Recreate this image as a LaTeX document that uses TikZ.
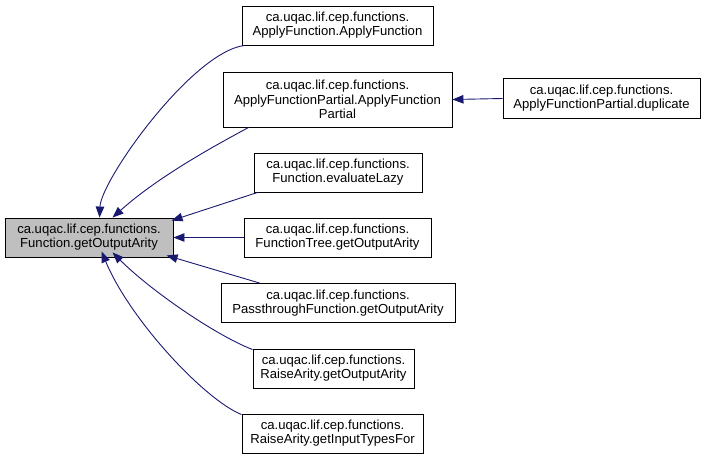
\documentclass[tikz,border=0pt]{standalone}
\usepackage{fontspec}
\setmainfont{Liberation Sans}
\usetikzlibrary{arrows.meta}
\definecolor{edgeblue}{HTML}{191970}
\definecolor{boxgray}{HTML}{BFBFBF}
\definecolor{boxline}{HTML}{000000}
\begin{document}
\begin{tikzpicture}[x=1pt,y=-1pt,
  fn/.style={draw=boxline,line width=0.9pt,fill=white,inner sep=0pt,align=center,
    font=\fontsize{13.1}{14.2}\selectfont},
  edge/.style={draw=edgeblue,line width=0.9pt,-{Triangle[length=11pt,width=8.5pt]},fill=none}]
\useasboundingbox (0,0) rectangle (707,460);
\node[fn,fill=boxgray,minimum width=168,minimum height=39] (main) at (89,237.5) {ca.uqac.lif.cep.functions.\\Function.getOutputArity};
\node[fn,minimum width=191,minimum height=39] (af) at (337.5,25.5) {ca.uqac.lif.cep.functions.\\ApplyFunction.ApplyFunction};
\node[fn,minimum width=229,minimum height=55] (afp) at (337.5,99.5) {ca.uqac.lif.cep.functions.\\ApplyFunctionPartial.ApplyFunction\\Partial};
\node[fn,minimum width=197,minimum height=40] (dup) at (601.5,98.5) {ca.uqac.lif.cep.functions.\\ApplyFunctionPartial.duplicate};
\node[fn,minimum width=168,minimum height=39] (el) at (338,172.5) {ca.uqac.lif.cep.functions.\\Function.evaluateLazy};
\node[fn,minimum width=187,minimum height=39] (ft) at (337.5,237.5) {ca.uqac.lif.cep.functions.\\FunctionTree.getOutputArity};
\node[fn,minimum width=234,minimum height=39] (pt) at (338,303) {ca.uqac.lif.cep.functions.\\PassthroughFunction.getOutputArity};
\node[fn,minimum width=161,minimum height=39] (ra) at (333.5,368.5) {ca.uqac.lif.cep.functions.\\RaiseArity.getOutputArity};
\node[fn,minimum width=181,minimum height=39] (rit) at (332.5,433.5) {ca.uqac.lif.cep.functions.\\RaiseArity.getInputTypesFor};

\draw[edge] ([xshift=3]af.south west) .. controls (192,52) and (101,180) .. ([xshift=95]main.north west);
\draw[edge] ([xshift=26]afp.south west) .. controls (220,143) and (160,175) .. ([xshift=108]main.north west);
\draw[edge] ([xshift=4]el.south west) -- ([xshift=167,yshift=-3]main.north west);
\draw[edge] (ft.west) -- (main.east);
\draw[edge] ([xshift=39]pt.north west) -- ([xshift=162,yshift=2]main.south west);
\draw[edge] ([yshift=-1]ra.north west) .. controls (215,335) and (150,290) .. ([xshift=108,yshift=5]main.south west);
\draw[edge] ([yshift=-1]rit.north west) .. controls (205,400) and (130,320) .. ([xshift=97,yshift=6]main.south west);
\draw[edge] (dup.west) -- (afp.east);
\end{tikzpicture}
\end{document}
